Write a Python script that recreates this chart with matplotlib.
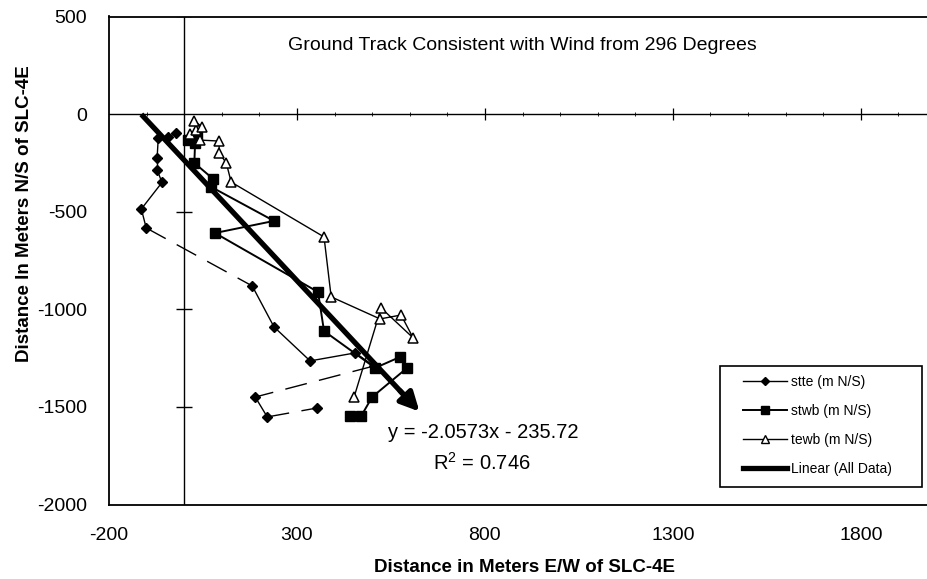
import numpy as np
import matplotlib
matplotlib.use("Agg")
import matplotlib.pyplot as plt
from matplotlib.lines import Line2D
from matplotlib.patches import Rectangle

plt.rcParams['font.family'] = ['Liberation Sans', 'DejaVu Sans']
plt.rcParams['mathtext.fontset'] = 'custom'
plt.rcParams['mathtext.rm'] = 'Liberation Sans'
plt.rcParams['axes.unicode_minus'] = False

# Ground-track samples (metres from SLC-4E): east/west, north/south
stte_x = [-21, -43, -69, -72, -72, -59, -114, -101, 181, 239, 335, 455, 505, 189, 221, 354]
stte_y = [-97, -117, -122, -225, -286, -350, -486, -583, -880, -1090, -1264, -1223, -1290, -1449, -1551, -1505]
stte_dashed = [7, 12, 14]

stwb_x = [11, 35, 29, 27, 77, 72, 239, 82, 356, 372, 508, 574, 593, 500, 471, 441]
stwb_y = [-133, -117, -148, -250, -332, -373, -547, -609, -911, -1111, -1300, -1244, -1300, -1449, -1546, -1546]

tewb_x = [16, 32, 27, 48, 43, 93, 93, 112, 125, 372, 391, 521, 577, 609, 524, 452]
tewb_y = [-102, -81, -35, -66, -133, -138, -199, -250, -348, -629, -936, -1049, -1029, -1146, -993, -1449]

# Linear fit over all data
slope = -2.0573
intercept = -235.72
r_squared = 0.746

x_ticks = [-200, 300, 800, 1300, 1800]
y_ticks = [500, 0, -500, -1000, -1500, -2000]
x_minor = [-100, 100, 200, 400, 500, 600, 700, 900, 1000, 1100, 1200,
           1400, 1500, 1600, 1700, 1900]
x_cross = [300, 800, 1300, 1800]
y_cross = [500, -500, -1000, -1500]

W, H = 927, 579
fig = plt.figure(figsize=(W / 100, H / 100), dpi=100)
ax = fig.add_axes([109 / W, (H - 504.6) / H, (936 - 109) / W, (504.6 - 16.5) / H])
ax.set_xlim(-200, 2000)
ax.set_ylim(-2000, 500)

for s in ax.spines.values():
    s.set_linewidth(1.3)
    s.set_color('black')

ax.set_xticks(x_ticks)
ax.set_yticks(y_ticks)
ax.tick_params(axis='both', length=0, labelsize=14)
ax.tick_params(axis='x', pad=16)
ax.tick_params(axis='y', pad=16)

# Axis lines crossing at the origin, with cross ticks
ax.axhline(0, color='black', lw=1.0, zorder=1)
ax.axvline(0, color='black', lw=1.0, zorder=1)
ax.plot(x_minor, np.zeros(len(x_minor)), ls='none', marker='|', ms=3, mew=0.6, color='black', zorder=1)
ax.plot(x_cross, np.zeros(len(x_cross)), ls='none', marker='|', ms=8, mew=0.9, color='black', zorder=1)
ax.plot(np.zeros(len(y_cross)), y_cross, ls='none', marker='_', ms=12, mew=1.0, color='black', zorder=1)

# stte: thin line, some legs dashed
for i in range(len(stte_x) - 1):
    ls = (0, (16, 9)) if i in stte_dashed else '-'
    ax.plot(stte_x[i:i + 2], stte_y[i:i + 2], color='black', lw=1.0, ls=ls, zorder=2)
ax.plot(stte_x, stte_y, ls='none', marker='D', ms=5.5, color='black', zorder=3)

ax.plot(stwb_x, stwb_y, color='black', lw=1.4, marker='s', ms=7, zorder=3)
ax.plot(tewb_x, tewb_y, color='black', lw=1.0, marker='^', ms=7, mfc='white', mec='black', mew=1.1, zorder=3)

# Trend line with arrowhead at the eastern end
all_x = np.concatenate([stte_x, stwb_x, tewb_x])
x0, x1 = all_x.min(), all_x.max()
ax.plot([x0, x1 - 20], [slope * x0 + intercept, slope * (x1 - 20) + intercept], color='black', lw=3.8,
        solid_capstyle='butt', zorder=4)
xa = x1 - 40
ax.annotate('', xy=(x1 + 22, slope * (x1 + 22) + intercept), xytext=(xa, slope * xa + intercept),
            arrowprops=dict(arrowstyle='-|>', lw=3.8, color='black', mutation_scale=28), zorder=5)

fig.text(522 / W, 1 - 46 / H, 'Ground Track Consistent with Wind from 296 Degrees',
         ha='center', va='center', fontsize=14)
fig.text(483 / W, 1 - 433 / H, f'y = {slope:.4f}x - {abs(intercept):.2f}',
         ha='center', va='center', fontsize=14.5)
fig.text(482 / W, 1 - 463 / H, f'R$^2$ = {r_squared:.3f}',
         ha='center', va='center', fontsize=14.5)

fig.text(525 / W, 1 - 568 / H, 'Distance in Meters E/W of SLC-4E',
         ha='center', va='center', fontsize=13.5, fontweight='bold')
fig.text(25 / W, 1 - 214 / H, 'Distance In Meters N/S of SLC-4E',
         ha='center', va='center', rotation=90, fontsize=13.5, fontweight='bold')

# Legend: entries without frame, box drawn separately
handles = [
    Line2D([], [], color='black', lw=1.0, marker='D', ms=4.5),
    Line2D([], [], color='black', lw=1.4, marker='s', ms=6),
    Line2D([], [], color='black', lw=1.0, marker='^', ms=6, mfc='white'),
    Line2D([], [], color='black', lw=3.8),
]
labels = ['stte (m N/S)', 'stwb (m N/S)', 'tewb (m N/S)', 'Linear (All Data)']
leg = fig.legend(handles, labels, loc='upper left', bbox_to_anchor=(743 / W, 1 - 375 / H),
                 fontsize=10, frameon=False, borderpad=0, borderaxespad=0,
                 handlelength=3.2, labelspacing=1.08, handletextpad=0.25)
fig.patches.append(Rectangle((720 / W, 1 - 487 / H), 202 / W, 121 / H, transform=fig.transFigure,
                             fill=False, edgecolor='black', lw=1.2, zorder=6))

fig.savefig('out.png', dpi=100)
